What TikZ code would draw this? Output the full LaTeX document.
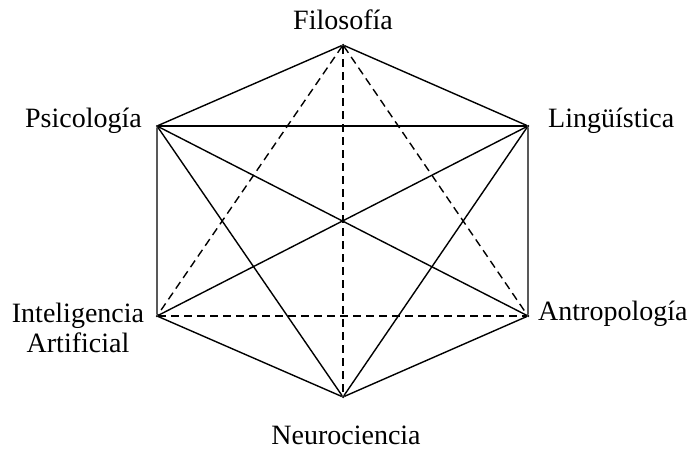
\documentclass[tikz,border=0pt]{standalone}
\usepackage{fontspec}
\setmainfont{Liberation Serif}
\usetikzlibrary{calc}
\tikzset{
    my-vertex/.style={
        fill, shape=circle, minimum size=2.5pt, inner sep=0pt
    },
    my-label/.style={
        font=\fontsize{28}{30}\selectfont, inner sep=0pt
    },
    my-edge/.style={
        line width=1.4pt
    },
    my-link/.style={
        line width=1.4pt, dash pattern=on 8pt off 5pt
    },
}

\begin{document}
\begin{tikzpicture}[x=1pt, y=-1pt]

        \useasboundingbox (0,0) rectangle (691,452);

        % VERTICES
        \node[my-vertex] (FIL) at (343, 45)  {};
        \node[my-vertex] (PSI) at (157, 126) {};
        \node[my-vertex] (LIN) at (528, 126) {};
        \node[my-vertex] (INT) at (157, 316) {};
        \node[my-vertex] (ANT) at (528, 316) {};
        \node[my-vertex] (NEU) at (343, 397) {};

        % LABELS
        \node[my-label, anchor=base]      (FILTXT) at ($(FIL) + (0, -15)$)  {Filosofía};
        \node[my-label, anchor=base east] (PSITXT) at ($(PSI) + (-15, 2)$)  {Psicología};
        \node[my-label, anchor=base west] (LINTXT) at ($(LIN) + (20, 2)$)   {Lingüística};
        \node[my-label, anchor=base west] (ANTTXT) at ($(ANT) + (10, 4)$)   {Antropología};
        \node[my-label, anchor=base, align=center] (INTTXT) at ($(INT) + (-79, 36)$) {Inteligencia\\Artificial};
        \node[my-label, anchor=base]      (NEUTXT) at ($(NEU) + (3, 47)$)   {Neurociencia};

        % OUTER HEXAGON
        \draw[my-edge] (FIL) -- (PSI) -- (INT) -- (NEU) -- (ANT) -- (LIN) -- (FIL);

        % SOLID DIAGONALS
        \draw[my-edge] (PSI) -- (LIN);
        \draw[my-edge] (PSI) -- (NEU);
        \draw[my-edge] (PSI) -- (ANT);
        \draw[my-edge] (LIN) -- (INT);
        \draw[my-edge] (LIN) -- (NEU);

        % DASHED DIAGONALS
        \draw[my-link] (FIL) -- (INT);
        \draw[my-link] (FIL) -- (NEU);
        \draw[my-link] (FIL) -- (ANT);
        \draw[my-link] (INT) -- (ANT);

\end{tikzpicture}
\end{document}
